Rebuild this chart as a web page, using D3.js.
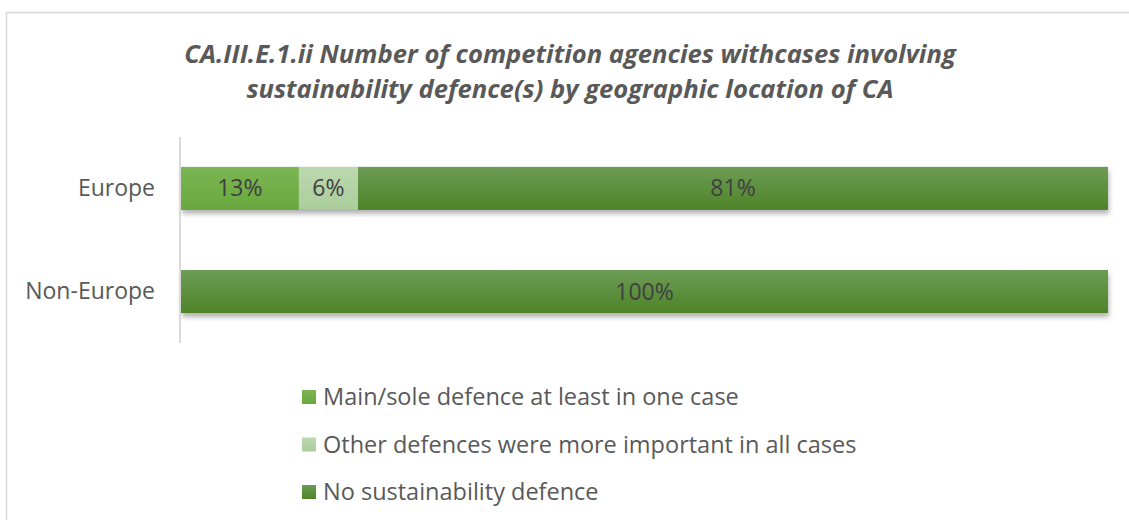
<!DOCTYPE html>
<html>
<head>
<meta charset="utf-8">
<script src="https://cdn.jsdelivr.net/npm/d3@7"></script>
<style>
  body { margin: 0; background: #fff; }
  text { font-family: "Open Sans", sans-serif; }
</style>
</head>
<body>
<div id="chart"></div>
<script>
// data
var categories = ["Europe", "Non-Europe"];
var seriesNames = ["Main/sole defence at least in one case", "Other defences were more important in all cases", "No sustainability defence"];
var mainSole = [12.7, 0];
var otherMore = [6.4, 0];
var noDefence = [80.9, 100];
var titleLines = ["CA.III.E.1.ii Number of competition agencies withcases involving", "sustainability defence(s) by geographic location of CA"];

var width = 1129, height = 520;
var margin = {top: 137, right: 21, bottom: 177, left: 181};
var colors = [
  {top: "#7cb553", bottom: "#68a83e"},
  {top: "#bcd8b0", bottom: "#abcd9b"},
  {top: "#6c9c55", bottom: "#4f8329"}
];

var svg = d3.select("#chart").append("svg")
    .attr("width", width)
    .attr("height", height);

var defs = svg.append("defs");
colors.forEach(function(c, i) {
  var g = defs.append("linearGradient").attr("id", "grad" + i)
      .attr("x1", 0).attr("y1", 0).attr("x2", 0).attr("y2", 1);
  g.append("stop").attr("offset", "0%").attr("stop-color", c.top);
  g.append("stop").attr("offset", "100%").attr("stop-color", c.bottom);
});
var f = defs.append("filter").attr("id", "shadow")
    .attr("x", "-5%").attr("y", "-20%").attr("width", "110%").attr("height", "160%");
f.append("feDropShadow").attr("dx", 1).attr("dy", 4).attr("stdDeviation", 2.5)
    .attr("flood-color", "#000").attr("flood-opacity", 0.3);

// chart frame
svg.append("rect")
    .attr("x", 6.5).attr("y", 12.5)
    .attr("width", width + 20).attr("height", height + 20)
    .attr("fill", "#fff").attr("stroke", "#d9d9d9").attr("stroke-width", 1.5);

// title
svg.append("g").selectAll("text")
    .data(titleLines)
    .enter().append("text")
    .attr("x", 570)
    .attr("y", function(d, i) { return 63 + i * 35; })
    .attr("text-anchor", "middle")
    .style("font-size", "25.6px")
    .style("font-weight", "bold")
    .style("font-style", "italic")
    .style("fill", "#595959")
    .text(function(d) { return d; });

var plotW = width - margin.left - margin.right;
var plotH = height - margin.top - margin.bottom;

var x = d3.scaleLinear().domain([0, 100]).range([0, plotW]);
var y = d3.scaleBand().domain(categories).range([0, plotH]).paddingInner(0.585).paddingOuter(0.29);

var plot = svg.append("g")
    .attr("transform", "translate(" + margin.left + "," + margin.top + ")");

var rows = categories.map(function(c, i) {
  return {cat: c, vals: [mainSole[i], otherMore[i], noDefence[i]]};
});
var stack = d3.stack().keys([0, 1, 2]).value(function(d, k) { return d.vals[k]; });
var layers = stack(rows);

// shadows first (one per bar) so they sit behind all segments
plot.selectAll(".barshadow")
    .data(rows)
    .enter().append("rect")
    .attr("class", "barshadow")
    .attr("x", 0)
    .attr("y", function(d) { return y(d.cat); })
    .attr("width", x(100))
    .attr("height", y.bandwidth())
    .attr("fill", "#5a8d3a")
    .attr("filter", "url(#shadow)");

var layer = plot.selectAll(".layer")
    .data(layers)
    .enter().append("g")
    .attr("class", "layer")
    .attr("fill", function(d, i) { return "url(#grad" + i + ")"; });

layer.selectAll("rect")
    .data(function(d) { return d.filter(function(p) { return p[1] - p[0] > 0; }); })
    .enter().append("rect")
    .attr("x", function(d) { return x(d[0]); })
    .attr("y", function(d) { return y(d.data.cat); })
    .attr("width", function(d) { return x(d[1]) - x(d[0]); })
    .attr("height", y.bandwidth());

layer.selectAll("text")
    .data(function(d) { return d.filter(function(p) { return p[1] - p[0] > 0; }); })
    .enter().append("text")
    .attr("x", function(d) { return (x(d[0]) + x(d[1])) / 2; })
    .attr("y", function(d) { return y(d.data.cat) + y.bandwidth() / 2; })
    .attr("dy", ".35em")
    .attr("text-anchor", "middle")
    .style("font-size", "23px")
    .style("fill", "#404040")
    .text(function(d) { return Math.round(d[1] - d[0]) + "%"; });

// category axis
var yAxis = d3.axisLeft(y).tickSize(0).tickPadding(26);
var ya = plot.append("g").call(yAxis);
ya.select(".domain").attr("stroke", "#d9d9d9").attr("stroke-width", 2).attr("d", "M-1,0V" + plotH);
ya.selectAll("text")
    .style("font-size", "23px")
    .style("font-family", "'Open Sans', sans-serif")
    .style("fill", "#595959");

// legend
var legend = svg.append("g").attr("transform", "translate(302,397)");
var item = legend.selectAll("g")
    .data(seriesNames)
    .enter().append("g")
    .attr("transform", function(d, i) { return "translate(0," + i * 47.5 + ")"; });
item.append("rect")
    .attr("x", 0).attr("y", -7)
    .attr("width", 14).attr("height", 14)
    .attr("fill", function(d, i) { return "url(#grad" + i + ")"; });
item.append("text")
    .attr("x", 21)
    .attr("dy", ".35em")
    .style("font-size", "23.5px")
    .style("fill", "#595959")
    .text(function(d) { return d; });
</script>
</body>
</html>
